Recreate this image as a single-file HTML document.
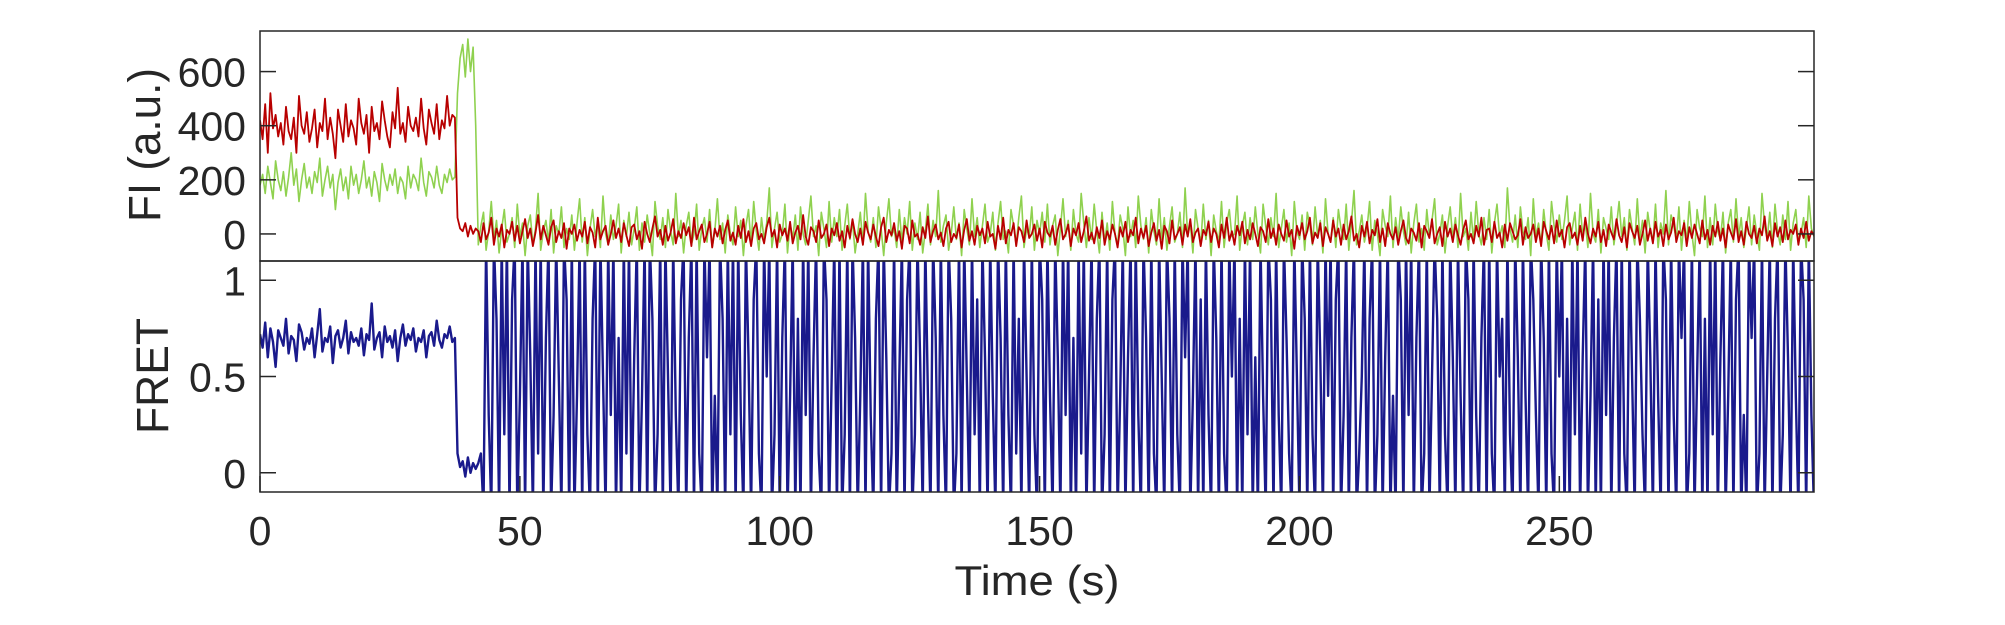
<!DOCTYPE html>
<html><head><meta charset="utf-8"><style>
html,body{margin:0;padding:0;background:#fff;}
svg{display:block;font-family:"Liberation Sans",Arial,sans-serif;}
</style></head><body>
<svg id="chart" width="2005" height="625" viewBox="0 0 2005 625" xmlns="http://www.w3.org/2000/svg">
<defs>
<clipPath id="clipTop"><rect x="260" y="31" width="1554" height="230"/></clipPath>
<clipPath id="clipBot"><rect x="260" y="261" width="1554" height="231"/></clipPath>
</defs>
<g id="topLines" clip-path="url(#clipTop)"></g>
<g id="botLines" clip-path="url(#clipBot)"></g>
<g id="axes"></g>
<text x="0" y="0" font-size="45" fill="#262626" text-anchor="middle" textLength="154" lengthAdjust="spacingAndGlyphs" transform="translate(160,145) rotate(-90)">FI (a.u.)</text>
<text x="0" y="0" font-size="45" fill="#262626" text-anchor="middle" textLength="116" lengthAdjust="spacingAndGlyphs" transform="translate(168,376) rotate(-90)">FRET</text>
<text x="1037" y="595" font-size="42" fill="#262626" text-anchor="middle" textLength="165" lengthAdjust="spacingAndGlyphs">Time (s)</text>
</svg>
<script>
const dt = 0.5;
const xTicks = [0,50,100,150,200,250];
const fiTicks = [0,200,400,600];
const fretTicks = [0,0.5,1];
const fretTickLabels = ["0","0.5","1"];
const redPre = [420,350,480,300,520,390,440,360,410,330,470,380,350,430,300,510,400,370,450,340,
390,460,320,410,380,500,350,430,370,280,460,400,340,480,360,420,390,330,500,410,
370,440,300,470,380,410,350,490,420,360,320,450,390,540,370,410,340,470,400,380,
430,360,500,390,330,460,410,370,480,350,420,390,510,400,440,430,
60,20,10,40,-10,30,0,20];
const redBase = [10,-30,40,-20,5,60,-40,20,-10,35,-50,15,0,45,-25,30,-35,10,55,-15,
20,-45,5,70,-20,30,-5,-40,25,50,-30,10,-15,40,-55,20,0,35,-25,15,
-10,45,-35,25,5,-50,60,-20,10,30,-40,0,50,-15,20,-30,40,-5,-45,25,
35,-20,10,-55,45,0,-30,20,65,-10,15,-40,30,-25,5,55,-35,10,-15,40,
-5,25,-45,60,-20,10,35,-30,0,45,-50,20,-10,30,-35,15,50,-25,5,-40,
30,-15,55,-30,10,-45,20,40,-20,0,-35,25,60,-10,15,-50,35,-5,20,-25,
45,-35,5,30,-20,70,-10,-40,25,10,-30,50,-15,0,35,-45,20,-5,40,-25,
10,-50,30,-15,55,0,-30,20,-40,45,5,-20,35,-10,-45,25,60,-30,15,-5,
40,-25,10,-55,30,20,-35,50,-10,0,-40,25,-15,65,-30,10,35,-20,5,-45,
20,45,-30,0,-15,35,-50,15,55,-25,10,-40,30,-5,20,-35,45,-10,0,-55,
30,-20,60,-35,15,-5,40,-45,25,10,-30,50,-15,0,35,-25,20,-50,45,5,
-10,30,-40,15,55,-20,0,35,-45,20,-5,40,-30,10,65,-25,5,-35,25,-15,
50,-40,10,-20,35,0,-50,25,-10,45,-30,15,-5,60,-35,20,-15,30,-45,5,
40,-25,15,-55,30,10,-35,50,-20,0,25,-40,35,-10,55,-30,5,20,-45,15,
-5,45,-30,20,0,-50,35,-15,60,-25,10,-40,30,-5,45,-35,15,-20,40,0,
-45,25,10,-30,55,-15,20,-40,35,0,-25,50,-10,15,-55,30,-5,40,-20,10,
60,-35,5,-15,40,-45,25,0,-30,50,-10,20,-40,35,-20,10,65,-25,0,-50,
30,-10,45,-35,15,-5,55,-30,20,-45,40,0,-20,25,-40,10,50,-15,-35,20,
5,-25,40,-50,30,10,-15,55,-35,0,25,-45,45,-10,20,-30,35,-5,-40,15,
50,-20,0,-35,30,-10,60,-40,15,20,-30,45,-15,5,-50,35,-25,40,10,-20,
-5,55,-40,25,-15,0,35,-30,20,-45,45,10,-20,30,-35,50,-10,15,-50,25,
40,-15,5,-40,30,-25,60,0,-35,20,-10,45,-30,15,-45,35,5,-20,55,-5,
-30,25,-50,40,10,-15,30,-40,0,50,-25,20,-35,45,-10,15,-45,35,-20,5,
60,-30,10,-5,40,-45,25,-15,35,0,-35,50,-20,15,-40,30,-10,45,-25,20,
-50,35,5,-20,55,-30,10,-40,45,0,-15,30,-35,20,-5,65,-25,10,-45,40,
-10,25,-30,50,-20,15,0,35,-40,20,-15,45,-25,10,-5,30];
const greenPre = [180,220,150,250,190,130,270,200,160,230,140,210,300,180,240,120,200,260,170,210,
150,230,190,280,140,200,250,170,220,90,190,240,160,210,130,250,180,220,150,200,
270,170,210,140,230,190,120,260,200,160,220,180,240,150,210,190,130,250,170,220,
200,160,280,190,140,230,210,170,250,180,150,220,190,240,200,210,
520,650,700,580,720,600,690,400];
const greenBase = [-40,30,80,-60,10,120,-20,50,-70,20,90,-30,0,60,-50,110,-10,40,-80,30,
70,-40,20,150,-60,10,50,-30,90,-70,30,0,100,-50,20,-20,70,-60,40,130,
-30,60,-80,20,90,-10,40,-50,140,0,-40,70,-20,30,110,-70,50,-10,80,-40,
20,100,-60,40,-30,70,0,-80,120,30,-20,60,-50,90,10,-40,150,-10,50,-70,
30,80,-40,0,110,-60,20,60,-30,90,-50,10,130,-20,40,-70,70,0,-40,100,
-10,50,-80,30,90,-40,120,10,-60,60,-20,40,170,-50,20,80,-30,0,110,-70,
40,-20,70,-60,100,0,-40,50,140,-10,30,-80,80,20,-50,120,-30,60,-10,90,
-60,30,110,-20,50,-70,0,80,-40,150,10,-30,60,-50,100,20,-80,40,130,-10,
20,-50,90,-30,60,0,120,-60,40,-20,80,-70,10,110,-40,50,-10,160,-30,30,
70,-60,0,100,-20,40,-80,90,20,-40,130,-10,60,-50,30,110,-30,0,80,-60,
40,120,-20,10,-70,90,30,-40,60,140,-50,20,-10,100,-60,50,0,80,-30,110,
-40,30,70,-80,20,130,-10,50,-60,90,0,-30,150,40,-50,60,-20,110,10,-70,
80,-30,40,-60,120,0,-40,70,20,-80,100,-10,50,-50,140,30,-20,60,-70,90,
10,-40,130,-20,60,-60,30,100,-30,0,80,-50,170,-10,40,-70,90,20,-40,110,
-20,50,-80,70,10,-30,120,-50,40,90,-10,0,140,-60,30,80,-40,60,-20,100,
0,-70,110,30,-40,60,-10,150,-50,20,90,-30,40,-80,120,10,-20,70,-60,80,
30,-40,100,-10,50,-70,130,0,-30,60,-50,90,20,-20,110,-60,40,160,-40,10,
70,-30,20,120,-60,50,0,-80,90,30,-10,140,-50,60,-20,100,10,-40,80,-70,
40,110,-30,20,-60,90,-10,50,130,-40,0,70,-70,30,100,-20,60,-50,150,-10,
20,-60,80,-30,120,0,-40,60,-20,90,-70,40,110,-10,30,-50,170,20,-30,70,
-50,100,10,-20,60,-80,130,-10,40,-40,90,0,-60,120,30,-30,70,-20,50,140,
-40,20,80,-60,110,-10,40,-50,150,0,-30,90,-70,60,20,-20,100,-40,30,120,
-10,60,-60,90,20,-40,130,-20,50,-70,80,10,-30,110,-50,40,0,160,-40,70,
30,-20,100,-60,50,-30,120,0,-80,90,20,-10,140,-50,60,-40,110,10,-20,80,
-70,40,90,-30,130,-10,60,-50,20,100,-40,70,0,-60,150,30,-20,80,-50,110,
10,-40,70,-20,120,-60,40,90,-30,0,60,-50,140,20,-10,100];
const fretPre = [0.72,0.65,0.78,0.6,0.75,0.68,0.55,0.74,0.7,0.66,0.8,0.62,0.71,0.69,0.58,0.77,0.73,0.64,0.7,0.67,
0.75,0.6,0.72,0.85,0.63,0.7,0.68,0.76,0.57,0.71,0.74,0.65,0.7,0.79,0.62,0.73,0.68,0.7,0.66,0.75,
0.61,0.72,0.69,0.88,0.64,0.7,0.73,0.6,0.76,0.68,0.71,0.65,0.74,0.58,0.7,0.77,0.66,0.72,0.69,0.75,
0.63,0.7,0.68,0.74,0.6,0.71,0.73,0.66,0.79,0.69,0.65,0.72,0.7,0.76,0.68,0.7,
0.1,0.03,0.06,-0.02,0.08,0.0,0.05,0.02];
const fretBase = [0.05,0.1,-0.2,1.2,0.3,-0.2,1.2,0.8,-0.2,1.2,0.2,1.2,-0.2,0.9,1.2,-0.2,0.4,1.2,-0.2,1.2,
0.6,-0.2,1.2,0.1,1.2,-0.2,0.7,1.2,-0.2,0.3,1.2,0.5,-0.2,1.2,0.9,-0.2,1.2,-0.2,0.4,1.2,
-0.2,1.2,0.2,-0.2,0.8,1.2,-0.2,1.2,0.5,-0.2,1.2,0.3,1.2,-0.2,0.7,-0.2,1.2,0.1,1.2,-0.2,
0.6,1.2,-0.2,0.4,1.2,-0.2,1.2,0.8,-0.2,0.2,1.2,-0.2,1.2,0.5,-0.2,1.2,0.3,-0.2,0.9,1.2,
-0.2,0.7,1.2,-0.2,1.2,0.1,-0.2,1.2,0.6,1.2,-0.2,0.4,-0.2,1.2,0.8,-0.2,1.2,0.2,1.2,-0.2,
1.2,0.3,-0.2,1.2,0.6,-0.2,0.9,1.2,0.1,-0.2,1.2,0.5,1.2,-0.2,0.2,1.2,-0.2,0.7,1.2,-0.2,
0.4,1.2,-0.2,0.8,-0.2,1.2,0.3,1.2,-0.2,0.6,1.2,0.1,-0.2,1.2,0.9,-0.2,0.5,1.2,-0.2,1.2,
-0.2,0.2,1.2,-0.2,1.2,0.7,-0.2,0.4,1.2,-0.2,1.2,0.3,-0.2,0.8,1.2,-0.2,1.2,0.6,-0.2,0.1,
1.2,-0.2,0.5,1.2,-0.2,0.9,1.2,-0.2,0.2,1.2,0.6,-0.2,1.2,0.4,-0.2,1.2,0.7,-0.2,1.2,0.3,
-0.2,1.2,0.8,-0.2,0.1,1.2,-0.2,1.2,0.5,-0.2,1.2,0.2,0.9,-0.2,1.2,0.6,-0.2,1.2,0.4,-0.2,
1.2,0.7,-0.2,1.2,0.3,-0.2,1.2,0.1,0.8,-0.2,1.2,0.5,-0.2,1.2,0.2,-0.2,1.2,0.9,-0.2,1.2,
0.4,-0.2,1.2,0.6,-0.2,1.2,0.3,1.2,-0.2,0.7,-0.2,1.2,0.1,1.2,-0.2,0.5,1.2,-0.2,0.8,1.2,
-0.2,0.2,1.2,-0.2,0.9,1.2,-0.2,0.4,1.2,-0.2,0.6,1.2,-0.2,1.2,0.3,-0.2,1.2,0.7,-0.2,1.2,
0.1,-0.2,1.2,0.5,-0.2,1.2,0.8,-0.2,1.2,0.2,-0.2,1.2,0.6,1.2,-0.2,0.4,1.2,-0.2,0.9,-0.2,
1.2,0.3,-0.2,1.2,0.7,-0.2,1.2,0.1,-0.2,1.2,0.5,1.2,-0.2,0.8,-0.2,1.2,0.2,1.2,-0.2,0.6,
-0.2,1.2,0.4,-0.2,1.2,0.9,-0.2,1.2,0.3,-0.2,1.2,0.7,0.1,-0.2,1.2,0.5,-0.2,1.2,0.8,-0.2,
1.2,0.2,-0.2,1.2,0.6,-0.2,1.2,0.4,1.2,-0.2,0.9,1.2,-0.2,0.3,1.2,-0.2,0.7,1.2,-0.2,0.1,
0.5,1.2,-0.2,0.8,1.2,-0.2,0.2,1.2,-0.2,0.6,1.2,-0.2,0.4,-0.2,1.2,0.9,-0.2,1.2,0.3,1.2,
-0.2,0.7,1.2,-0.2,0.1,1.2,-0.2,0.5,1.2,0.8,-0.2,1.2,0.2,-0.2,1.2,0.6,-0.2,1.2,0.4,-0.2,
1.2,0.9,-0.2,1.2,0.3,-0.2,0.7,1.2,-0.2,1.2,0.1,-0.2,1.2,0.5,0.8,-0.2,1.2,0.2,-0.2,1.2,
0.6,-0.2,1.2,0.4,-0.2,1.2,0.9,0.3,-0.2,1.2,0.7,-0.2,1.2,0.1,-0.2,1.2,0.5,1.2,-0.2,0.8,
-0.2,1.2,0.2,1.2,-0.2,0.6,1.2,-0.2,0.4,1.2,-0.2,0.9,-0.2,1.2,0.3,1.2,-0.2,0.7,1.2,-0.2,
1.2,0.1,-0.2,1.2,0.5,-0.2,1.2,0.8,0.2,-0.2,1.2,0.6,-0.2,1.2,0.4,-0.2,1.2,0.9,-0.2,1.2,
0.3,-0.2,1.2,0.7,1.2,-0.2,0.1,1.2,-0.2,0.5,1.2,-0.2,0.8,-0.2,1.2,0.2,1.2,-0.2,0.6,1.2,
-0.2,0.4,1.2,-0.2,0.9,1.2,-0.2,0.3,-0.2,1.2,0.7,1.2,-0.2,0.1,1.2,-0.2,0.5,1.2,-0.2,0.8,
1.2,-0.2,0.2,1.2,0.6,-0.2,1.2,0.4,-0.2,1.2,0.9,-0.2,1.2,0.3,-0.2,0.7];

const redSeries = redPre.concat(redBase);
const greenSeries = greenPre.concat(greenBase);
const fretSeries = fretPre.concat(fretBase);

const X0=260, X1=1814, XMIN=0, XMAX=299;
const xs = t => X0 + (t-XMIN)/(XMAX-XMIN)*(X1-X0);
const T0=31, T1=261, FMIN=-100, FMAX=750;
const yTop = v => T1 - (v-FMIN)/(FMAX-FMIN)*(T1-T0);
const B0=261, B1=492, EMIN=-0.1, EMAX=1.1;
const yBot = v => B1 - (v-EMIN)/(EMAX-EMIN)*(B1-B0);
const NS="http://www.w3.org/2000/svg";

function mkPath(arr, yfn, color, w){
  let d="";
  arr.forEach((v,i)=>{ d += (i?"L":"M")+xs(i*dt).toFixed(1)+","+yfn(v).toFixed(1); });
  const p=document.createElementNS(NS,"path");
  p.setAttribute("d",d); p.setAttribute("fill","none");
  p.setAttribute("stroke",color); p.setAttribute("stroke-width",w);
  p.setAttribute("stroke-linejoin","round");
  return p;
}
const topG=document.getElementById("topLines");
const gp=mkPath(greenSeries,yTop,"#8fd14f",1.6);


topG.appendChild(gp);
const rp=mkPath(redSeries,yTop,"#b80000",1.8);


topG.appendChild(rp);
const botG=document.getElementById("botLines");
const bp=mkPath(fretSeries,yBot,"#1a1a8c",2.4);


botG.appendChild(bp);

const axG=document.getElementById("axes");
function line(x1,y1,x2,y2){
  const l=document.createElementNS(NS,"line");
  l.setAttribute("x1",x1);l.setAttribute("y1",y1);l.setAttribute("x2",x2);l.setAttribute("y2",y2);
  l.setAttribute("stroke","#262626");l.setAttribute("stroke-width",1.5);
  axG.appendChild(l); return l;
}
function txt(x,y,s,anchor){
  const t=document.createElementNS(NS,"text");
  t.setAttribute("x",x);t.setAttribute("y",y);t.setAttribute("font-size",41);
  t.setAttribute("fill","#262626");t.setAttribute("text-anchor",anchor);
  t.textContent=s; axG.appendChild(t); return t;
}
const box1=document.createElementNS(NS,"rect");
box1.setAttribute("x",X0);box1.setAttribute("y",T0);box1.setAttribute("width",X1-X0);box1.setAttribute("height",T1-T0);
box1.setAttribute("fill","none");box1.setAttribute("stroke","#262626");box1.setAttribute("stroke-width",1.5);


axG.appendChild(box1);
const box2=document.createElementNS(NS,"rect");
box2.setAttribute("x",X0);box2.setAttribute("y",B0);box2.setAttribute("width",X1-X0);box2.setAttribute("height",B1-B0);
box2.setAttribute("fill","none");box2.setAttribute("stroke","#262626");box2.setAttribute("stroke-width",1.5);


axG.appendChild(box2);

fiTicks.forEach(v=>{
  const y=yTop(v);
  const a=line(X0,y,X0+16,y);
  
  
  const b=line(X1-16,y,X1,y);
  
  
  const t=txt(246,y+15,String(v),"end");
  
  
});
fretTicks.forEach((v,i)=>{
  const y=yBot(v);
  const a=line(X0,y,X0+16,y);
  
  
  const b=line(X1-16,y,X1,y);
  
  
  const t=txt(246,y+15,fretTickLabels[i],"end");
  
  
});
xTicks.forEach(v=>{
  const x=xs(v);
  const a=line(x,B1,x,B1-16);
  
  
  const t=txt(x,545,String(v),"middle");
  
  
});
</script>
</body></html>
